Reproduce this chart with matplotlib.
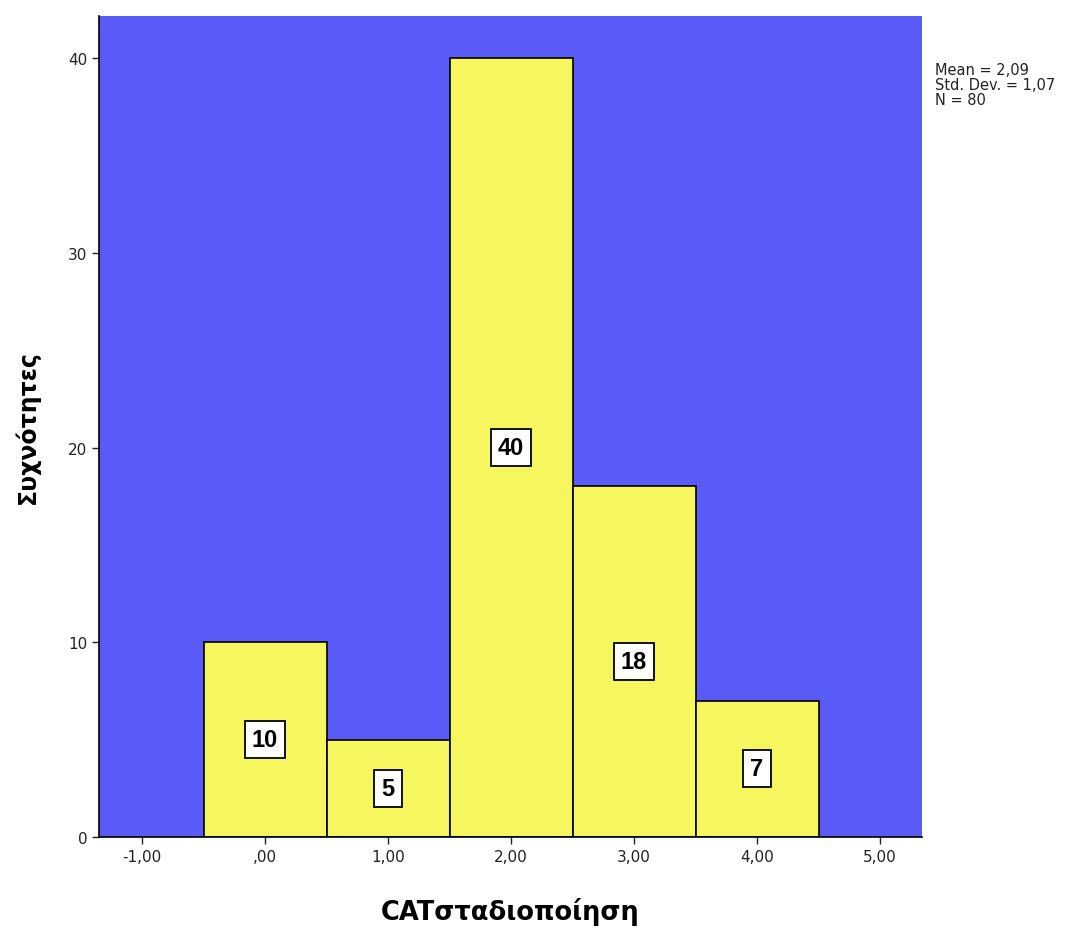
import matplotlib
matplotlib.use("Agg")
import matplotlib.pyplot as plt

bin_centers = [0, 1, 2, 3, 4]
counts = [10, 5, 40, 18, 7]
xticks = [-1, 0, 1, 2, 3, 4, 5]
xtick_labels = ["-1,00", ",00", "1,00", "2,00", "3,00", "4,00", "5,00"]
yticks = [0, 10, 20, 30, 40]
stats_text = "Mean = 2,09\nStd. Dev. = 1,07\nN = 80"
xlabel = "CATσταδιοποίηση"
ylabel = "Συχνότητες"

blue = "#5a5af6"
yellow = "#f6f65e"

fig = plt.figure(figsize=(10.91, 9.29), dpi=100)
ax = fig.add_axes([0.0907, 0.098, 0.7543, 0.8837])
ax.set_facecolor(blue)
ax.bar(bin_centers, counts, width=1.0, color=yellow, edgecolor="black", linewidth=1.2, zorder=2)
for x, c in zip(bin_centers, counts):
    ax.text(x, c / 2, str(c), ha="center", va="center", fontsize=17, fontweight="bold",
            family=["Liberation Sans Narrow", "Liberation Sans"],
            bbox=dict(boxstyle="square,pad=0.3", facecolor="white", edgecolor="black", linewidth=1.3),
            zorder=3)

ax.set_xlim(-1.35, 5.34)
ax.set_ylim(0, 42.16)
ax.set_xticks(xticks)
ax.set_xticklabels(xtick_labels)
ax.set_yticks(yticks)
ax.tick_params(axis="both", labelsize=11, colors="#222222", length=5, width=1, direction="out")
for side in ["top", "right"]:
    ax.spines[side].set_visible(False)
for side in ["left", "bottom"]:
    ax.spines[side].set_linewidth(1.2)

ax.set_xlabel(xlabel, fontsize=18.5, fontweight="bold", labelpad=24)
ax.set_ylabel(ylabel, fontsize=17, fontweight="bold", labelpad=20)

fig.text(0.857, 0.932, stats_text, fontsize=10.5, va="top", ha="left", color="#222222", linespacing=1.0)

fig.savefig("out.png", dpi=100)
